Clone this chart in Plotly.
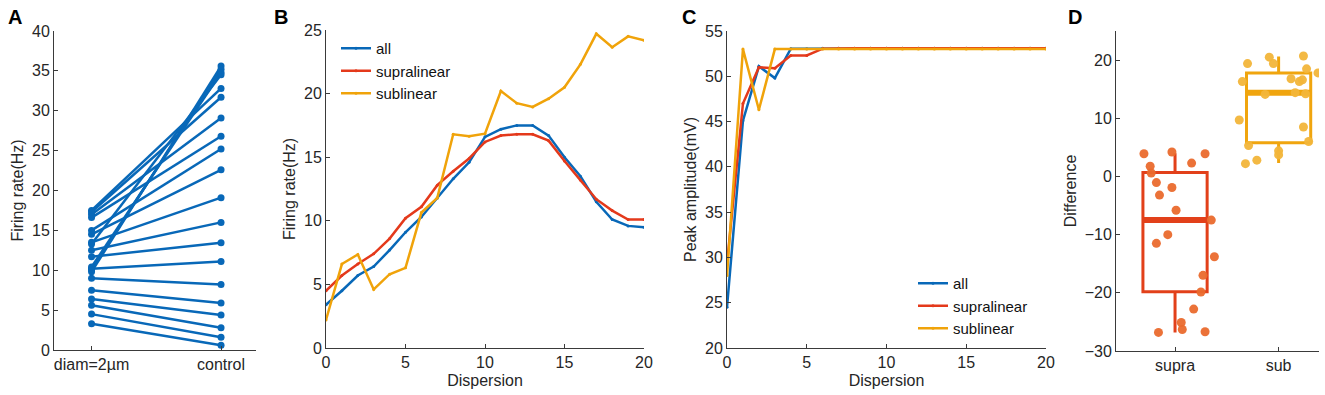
import plotly.graph_objects as go

# ---------------- Data ----------------
# Panel A: paired firing rates
a_categories = ["diam=2µm", "control"]
a_diam = [3.3, 4.5, 5.6, 6.4, 7.5, 9.0, 10.2, 11.7, 12.5, 13.5, 14.5, 15.0, 16.6, 17.0, 17.3, 17.5, 9.8, 10.1, 10.4, 13.3]
a_control = [0.6, 1.6, 2.8, 4.4, 5.9, 8.2, 11.1, 13.45, 16.0, 19.1, 22.6, 25.2, 26.8, 29.1, 31.7, 32.8, 35.6, 35.2, 34.8, 34.5]

# Panel B: firing rate vs dispersion
dispersion = list(range(21))
b_all = [3.4, 4.5, 5.7, 6.4, 7.7, 9.1, 10.3, 11.8, 13.3, 14.6, 16.6, 17.2, 17.5, 17.5, 16.7, 15.0, 13.5, 11.5, 10.1, 9.6, 9.5]
b_supra = [4.5, 5.7, 6.6, 7.4, 8.6, 10.2, 11.1, 12.8, 13.9, 14.9, 16.2, 16.7, 16.8, 16.8, 16.3, 14.7, 13.2, 11.7, 10.8, 10.1, 10.1]
b_sub = [2.2, 6.6, 7.35, 4.6, 5.8, 6.3, 10.65, 11.8, 16.8, 16.65, 16.85, 20.2, 19.25, 18.95, 19.6, 20.5, 22.3, 24.7, 23.65, 24.5, 24.2]

# Panel C: peak amplitude vs dispersion
c_all = [24.5, 45.1, 51.1, 49.8, 53.05, 53.05, 53.1, 53.1, 53.1, 53.1, 53.1, 53.1, 53.1, 53.1, 53.1, 53.1, 53.1, 53.1, 53.1, 53.1, 53.1]
c_supra = [29.3, 47.0, 51.0, 50.9, 52.3, 52.3, 53.05, 53.1, 53.1, 53.1, 53.1, 53.1, 53.1, 53.1, 53.1, 53.1, 53.1, 53.1, 53.1, 53.1, 53.1]
c_sub = [28.0, 53.0, 46.3, 53.0, 53.0, 53.0, 53.0, 53.0, 53.0, 53.0, 53.0, 53.0, 53.0, 53.0, 53.0, 53.0, 53.0, 53.0, 53.0, 53.0, 53.0]

# Panel D: difference box plots
d_categories = ["supra", "sub"]
d_q1 = [-19.8, 5.8]
d_median = [-7.5, 14.4]
d_q3 = [0.7, 17.8]
d_low = [-26.8, 2.3]
d_high = [4.0, 20.6]
d_supra_x = [0.70, 0.76, 0.77, 0.82, 0.85, 0.97, 0.97, 1.01, 1.16, 1.29, 1.35, 1.38, 1.27, 1.25, 1.18, 1.06, 1.07, 0.84, 1.29, 0.93, 0.82]
d_supra_y = [3.9, 1.75, 0.6, -1.05, -3.2, 4.2, -1.9, -5.8, 2.3, 3.9, -7.5, -13.8, -17.0, -19.85, -22.8, -25.1, -26.3, -26.8, -26.7, -10.0, -11.5]
d_sub_x = [1.62, 1.65, 1.70, 1.71, 1.68, 1.79, 1.87, 1.91, 1.95, 2.00, 2.00, 2.12, 2.16, 2.20, 2.23, 2.24, 2.27, 2.26, 2.24, 2.29, 2.38]
d_sub_y = [9.7, 16.3, 19.4, 5.3, 2.2, 2.8, 14.1, 20.5, 19.4, 4.4, 3.7, 16.8, 14.4, 16.3, 16.6, 20.7, 18.5, 14.2, 8.5, 6.0, 17.8]
d_box_width = 0.62

# ---------------- Style ----------------
BLUE = "#0868B8"
RED = "#E4391B"
YELLOW = "#F0A30A"
D_RED = "#E2401A"
D_RED_PT = "#EA6A2D"
D_YEL = "#F0A50E"
D_YEL_PT = "#F2B53A"
AX = "#3a3a3a"
TXT = "#262626"
FONT = "Liberation Sans, Arial, sans-serif"

fig = go.Figure()

# Panel A
for l, r in zip(a_diam, a_control):
    fig.add_trace(go.Scatter(x=[1, 2], y=[l, r], mode="lines+markers",
                             line=dict(color=BLUE, width=2.5),
                             marker=dict(color=BLUE, size=7),
                             showlegend=False, xaxis="x", yaxis="y"))

# Panel B
for name, vals, col in [("all", b_all, BLUE), ("supralinear", b_supra, RED), ("sublinear", b_sub, YELLOW)]:
    fig.add_trace(go.Scatter(x=dispersion, y=vals, mode="lines+markers", name=name,
                             line=dict(color=col, width=2.5), marker=dict(color=col, size=3),
                             xaxis="x2", yaxis="y2", legend="legend"))

# Panel C
for name, vals, col in [("all", c_all, BLUE), ("supralinear", c_supra, RED), ("sublinear", c_sub, YELLOW)]:
    fig.add_trace(go.Scatter(x=dispersion, y=vals, mode="lines+markers", name=name,
                             line=dict(color=col, width=2.5), marker=dict(color=col, size=3),
                             xaxis="x3", yaxis="y3", legend="legend2"))

# Panel D boxes
box_cols = [D_RED, D_YEL]
for i in range(2):
    fig.add_trace(go.Box(x=[i + 1], q1=[d_q1[i]], median=[d_median[i]], q3=[d_q3[i]],
                         lowerfence=[d_low[i]], upperfence=[d_high[i]],
                         width=d_box_width, whiskerwidth=0, boxpoints=False,
                         line=dict(color=box_cols[i], width=3), fillcolor="rgba(0,0,0,0)",
                         showlegend=False, xaxis="x4", yaxis="y4"))
    fig.add_trace(go.Scatter(x=[i + 1 - d_box_width / 2, i + 1 + d_box_width / 2],
                             y=[d_median[i], d_median[i]], mode="lines",
                             line=dict(color=box_cols[i], width=6), showlegend=False,
                             xaxis="x4", yaxis="y4"))

fig.add_trace(go.Scatter(x=d_supra_x, y=d_supra_y, mode="markers",
                         marker=dict(color=D_RED_PT, size=9, opacity=0.95),
                         showlegend=False, xaxis="x4", yaxis="y4"))
fig.add_trace(go.Scatter(x=d_sub_x, y=d_sub_y, mode="markers",
                         marker=dict(color=D_YEL_PT, size=9, opacity=0.95),
                         showlegend=False, xaxis="x4", yaxis="y4"))

H = 395.0
W = 1325.0


def ydom(top, bottom):
    return [1 - bottom / H, 1 - top / H]


def xdom(left, right):
    return [left / W, right / W]


common = dict(showline=True, linecolor=AX, linewidth=1, ticks="inside", ticklen=4,
              tickcolor=AX, showgrid=False, zeroline=False, mirror=False, automargin=False,
              tickfont=dict(family=FONT, size=16, color=TXT),
              title_font=dict(family=FONT, size=16, color=TXT))

fig.update_layout(
    width=1325, height=395,
    margin=dict(l=0, r=0, t=0, b=0),
    paper_bgcolor="white", plot_bgcolor="white",
    font=dict(family=FONT, color=TXT),
    xaxis=dict(domain=xdom(54, 256), range=[0.71, 2.27], tickvals=[1, 2], ticktext=a_categories,
               anchor="y", **common),
    yaxis=dict(domain=ydom(31, 350), range=[0, 40], dtick=5, title=dict(text="Firing rate(Hz)", standoff=4),
               anchor="x", **common),
    xaxis2=dict(domain=xdom(326, 644), range=[0, 20], dtick=5, title=dict(text="Dispersion", standoff=4),
                anchor="y2", **common),
    yaxis2=dict(domain=ydom(30, 348), range=[0, 25], dtick=5, title=dict(text="Firing rate(Hz)", standoff=4),
                anchor="x2", **common),
    xaxis3=dict(domain=xdom(727, 1046), range=[0, 20], dtick=5, title=dict(text="Dispersion", standoff=4),
                anchor="y3", **common),
    yaxis3=dict(domain=ydom(31, 348), range=[20, 55], dtick=5, title=dict(text="Peak amplitude(mV)", standoff=4),
                anchor="x3", **common),
    xaxis4=dict(domain=xdom(1116, 1319), range=[0.43, 2.39], tickvals=[1, 2], ticktext=d_categories,
                anchor="y4", **common),
    yaxis4=dict(domain=ydom(31, 351), range=[-30, 25], tickvals=[-30, -20, -10, 0, 10, 20],
                title=dict(text="Difference", standoff=4), anchor="x4", **common),
    legend=dict(x=336 / W, y=1 - 32 / H, xanchor="left", yanchor="top", bgcolor="rgba(0,0,0,0)",
                font=dict(family=FONT, size=15, color="#111"), tracegroupgap=0, itemwidth=30),
    legend2=dict(x=913 / W, y=1 - 267 / H, xanchor="left", yanchor="top", bgcolor="rgba(0,0,0,0)",
                 font=dict(family=FONT, size=15, color="#111"), tracegroupgap=0, itemwidth=30),
)

for label, x, y in [("A", 6, 4), ("B", 272, 4), ("C", 680, 4), ("D", 1066, 4)]:
    fig.add_annotation(text="<b>%s</b>" % label, x=x / W, y=1 - y / H, xref="paper", yref="paper",
                       xanchor="left", yanchor="top", showarrow=False,
                       font=dict(family=FONT, size=20, color="black"))

fig.write_html("out.html", config={"displayModeBar": False},
               post_script="document.body.style.margin='0px';")
